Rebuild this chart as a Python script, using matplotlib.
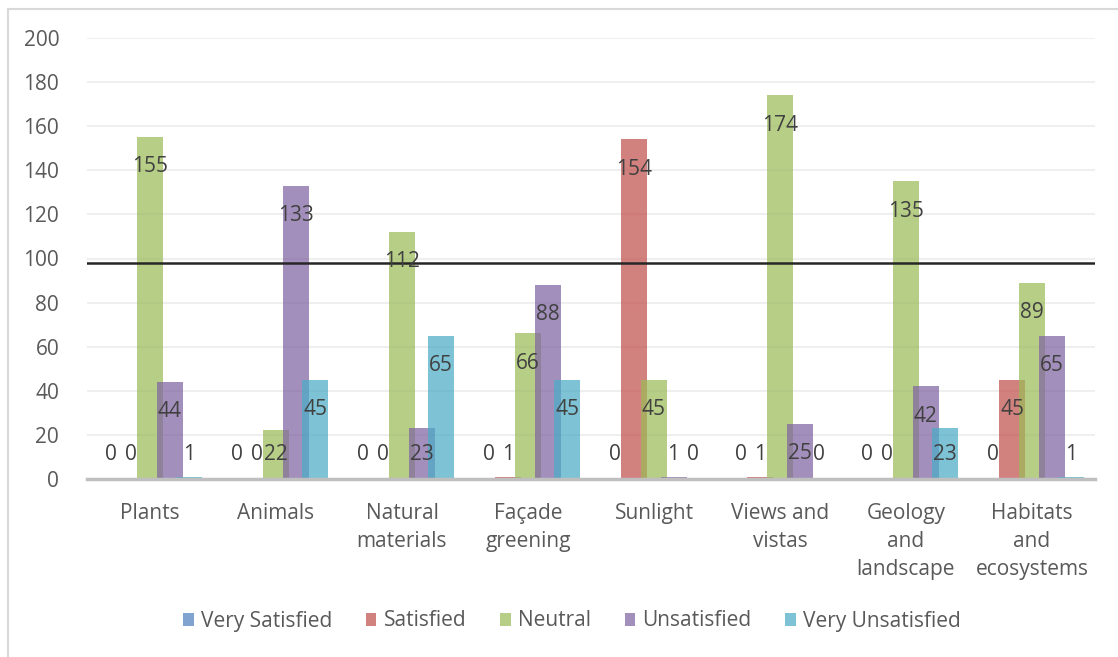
import matplotlib
matplotlib.use("Agg")
import matplotlib.pyplot as plt
import numpy as np

# ===== DATA =====
categories = ["Plants", "Animals", "Natural\nmaterials", "Façade\ngreening",
              "Sunlight", "Views and\nvistas", "Geology\nand\nlandscape",
              "Habitats\nand\necosystems"]
series_names = ["Very Satisfied", "Satisfied", "Neutral", "Unsatisfied",
                "Very Unsatisfied"]
very_satisfied = [0, 0, 0, 0, 0, 0, 0, 0]
satisfied = [0, 0, 0, 1, 154, 1, 0, 45]
neutral = [155, 22, 112, 66, 45, 174, 135, 89]
unsatisfied = [44, 133, 23, 88, 1, 25, 42, 65]
very_unsatisfied = [1, 45, 65, 45, 0, 0, 23, 1]
reference_level = 98
y_ticks = list(range(0, 201, 20))

series = [very_satisfied, satisfied, neutral, unsatisfied, very_unsatisfied]
colors = ["#4F81BD", "#C0504D", "#9BBB59", "#8064A2", "#4BACC6"]

plt.rcParams["font.family"] = ["Open Sans", "DejaVu Sans"]
TEXT = "#595959"
LABEL = "#404040"
FS = 15

fig = plt.figure(figsize=(11.18, 6.57), dpi=100)
ax = fig.add_axes([87 / 1118, 1 - 479 / 657, 1008 / 1118, 441 / 657])

x = np.arange(len(categories))
step = 0.155
width = 0.206
for i, (name, vals, c) in enumerate(zip(series_names, series, colors)):
    pos = x + (i - 2) * step
    ax.bar(pos, vals, width=width, color=c, alpha=0.72, label=name,
           zorder=2 + i, linewidth=0)
    for xp, v in zip(pos, vals):
        ax.text(xp, max(v - 13.5, 11), str(v), ha="center", va="center",
                fontsize=FS, color=LABEL, zorder=20)

ax.axhline(reference_level, color="#262626", lw=1.8, zorder=15)

ax.set_xlim(-0.5, len(categories) - 0.5)
ax.set_ylim(0, 200)
ax.set_yticks(y_ticks)
ax.set_xticks(x)
ax.set_xticklabels(categories, fontsize=FS, color=TEXT, linespacing=1.45,
                   va="top")
ax.tick_params(axis="y", labelsize=FS, labelcolor=TEXT, length=0, pad=20)
ax.tick_params(axis="x", length=0, pad=17)
ax.grid(axis="y", color="#efefef", lw=1.5, zorder=0)
ax.set_axisbelow(True)
for side in ["top", "right", "left"]:
    ax.spines[side].set_visible(False)
ax.spines["bottom"].set_color("#bfbfbf")
ax.spines["bottom"].set_linewidth(2.5)
ax.spines["bottom"].set_zorder(30)

leg = fig.legend(loc="center", bbox_to_anchor=(572 / 1118, 1 - 621 / 657),
                 ncol=5, frameon=False, fontsize=FS, handlelength=0.5,
                 handleheight=0.6, handletextpad=0.35, columnspacing=1.62,
                 labelcolor=TEXT)

# outer frame, only top and left edges visible
fig.add_artist(plt.Line2D([8 / 1118, 1], [1 - 9 / 657, 1 - 9 / 657],
                          color="#d9d9d9", lw=1.5, transform=fig.transFigure))
fig.add_artist(plt.Line2D([8 / 1118, 8 / 1118], [0, 1 - 9 / 657],
                          color="#d9d9d9", lw=1.5, transform=fig.transFigure))

fig.savefig("out.png", dpi=100)
